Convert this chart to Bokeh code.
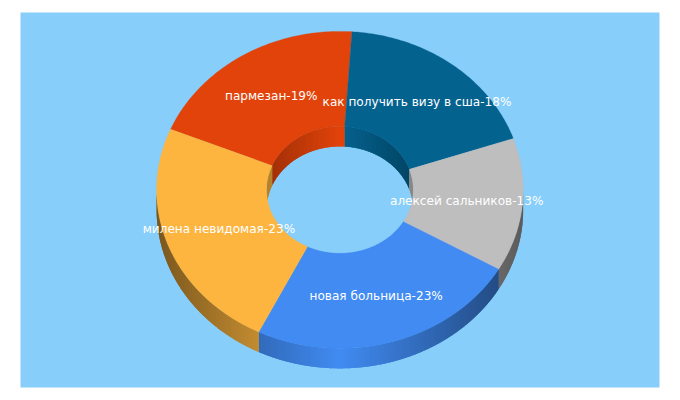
import numpy as np
from bokeh.plotting import figure
from bokeh.models import ColumnDataSource, Range1d
from bokeh.core.properties import value
from bokeh.embed import file_html
from bokeh.resources import INLINE

# Data, in drawing order (clockwise, starting at the red slice)
names = ["пармезан", "как получить визу в сша", "алексей сальников", "новая больница", "милена невидомая"]
shown_percent = [19, 18, 13, 23, 23]
shares = [19.8, 18.7, 13.6, 23.95, 23.95]
colors = ["#E2430A", "#04628F", "#BEBEBE", "#418BF2", "#FDB53F"]
start_angle = 292.5  # degrees clockwise from top

# Pixel layout of the pie
CX, CY, RX, RY = 339.4, 189.4, 183.3, 158.5
INNER = 0.4
DEPTH = 20.0 / RY
MID = 0.7

def hex_rgb(c):
    return np.array([int(c[i:i + 2], 16) for i in (1, 3, 5)], dtype=float)

def shade(c, k):
    r, g, b = np.clip(hex_rgb(c) * k, 0, 255).round().astype(int)
    return f"#{r:02x}{g:02x}{b:02x}"

edges = start_angle + np.concatenate([[0], np.cumsum(shares)]) * 3.6

def pt(a, r):
    t = np.radians(a)
    return r * np.sin(t), r * np.cos(t)

wx, wy, wc = [], [], []

def add_wall(lo, hi, r, color, strength, front):
    # one strip per pixel column; each reaches under the next, so no seams show
    span = RX * r
    px = sorted((CX + span * np.sin(np.radians(lo)), CX + span * np.sin(np.radians(hi))))
    cols = np.arange(np.ceil(px[0]), np.floor(px[1]) + 1)
    asin = np.degrees(np.arcsin(np.clip((cols - CX) / span, -1, 1)))
    brk = (180 - asin) if front else asin
    wrap = (lo + hi) / 2 - (180 if front else 0)
    brk = brk + 360 * np.round(wrap / 360)
    brk = np.unique(np.concatenate([[lo, hi], brk[(brk > lo) & (brk < hi)]]))
    n = len(brk) - 1
    for i in range(n):
        ang = np.linspace(brk[i], brk[min(i + 2, n)], 7)
        x, y = pt(ang, r)
        wx.append(np.concatenate([x, x[::-1]]).tolist())
        wy.append(np.concatenate([y, y[::-1] - DEPTH]).tolist())
        xm, _ = pt((brk[i] + brk[i + 1]) / 2, r)
        k = 1 - strength * abs(xm) / r
        wc.append(shade(color, k))

def overlap(a0, a1, lo, hi):
    out = []
    for off in (-720, -360, 0, 360, 720):
        s, e = max(a0, lo + off), min(a1, hi + off)
        if e > s:
            out.append((s, e))
    return out

for i, c in enumerate(colors):
    for s, e in overlap(edges[i], edges[i + 1], 90, 270):
        add_wall(s, e, 1.0, c, 0.52, True)
    for s, e in overlap(edges[i], edges[i + 1], -90, 90):
        add_wall(s, e, INNER, c, 0.3, False)

tx, ty = [], []
lx, ly, lt = [], [], []
for i in range(len(shares)):
    ang = np.linspace(edges[i], edges[i + 1], 90)
    ox, oy = pt(ang, 1.0)
    ix, iy = pt(ang[::-1], INNER)
    tx.append(np.concatenate([ox, ix]).tolist())
    ty.append(np.concatenate([oy, iy]).tolist())
    mx, my = pt((edges[i] + edges[i + 1]) / 2, MID)
    lx.append(float(mx))
    ly.append(float(my))
    lt.append(f"{names[i]}-{shown_percent[i]}%")

p = figure(width=672, height=392, output_backend="svg", toolbar_location=None,
           x_axis_type=None, y_axis_type=None,
           x_range=Range1d((20 - CX) / RX, (659 - CX) / RX),
           y_range=Range1d((CY - 387) / RY, (CY - 12) / RY),
           min_border_left=20, min_border_right=13, min_border_top=12, min_border_bottom=5,
           background_fill_color="#87CEFA", border_fill_color="#FFFFFF", outline_line_color=None)
p.grid.visible = False

p.patches("x", "y", source=ColumnDataSource(dict(x=wx, y=wy, c=wc)),
          fill_color="c", line_color=None)
p.patches("x", "y", source=ColumnDataSource(dict(x=tx, y=ty, c=colors)),
          fill_color="c", line_color="c", line_width=0.3)
p.text("x", "y", text="t", source=ColumnDataSource(dict(x=lx, y=ly, t=lt)),
       text_color="#FFFFFF", text_align="center", text_baseline="middle",
       x_offset=-0.9, y_offset=0.1,
       text_font=value("DejaVu Sans"), text_font_size="12.1px")

open("out.html", "w").write(file_html(p, INLINE))
